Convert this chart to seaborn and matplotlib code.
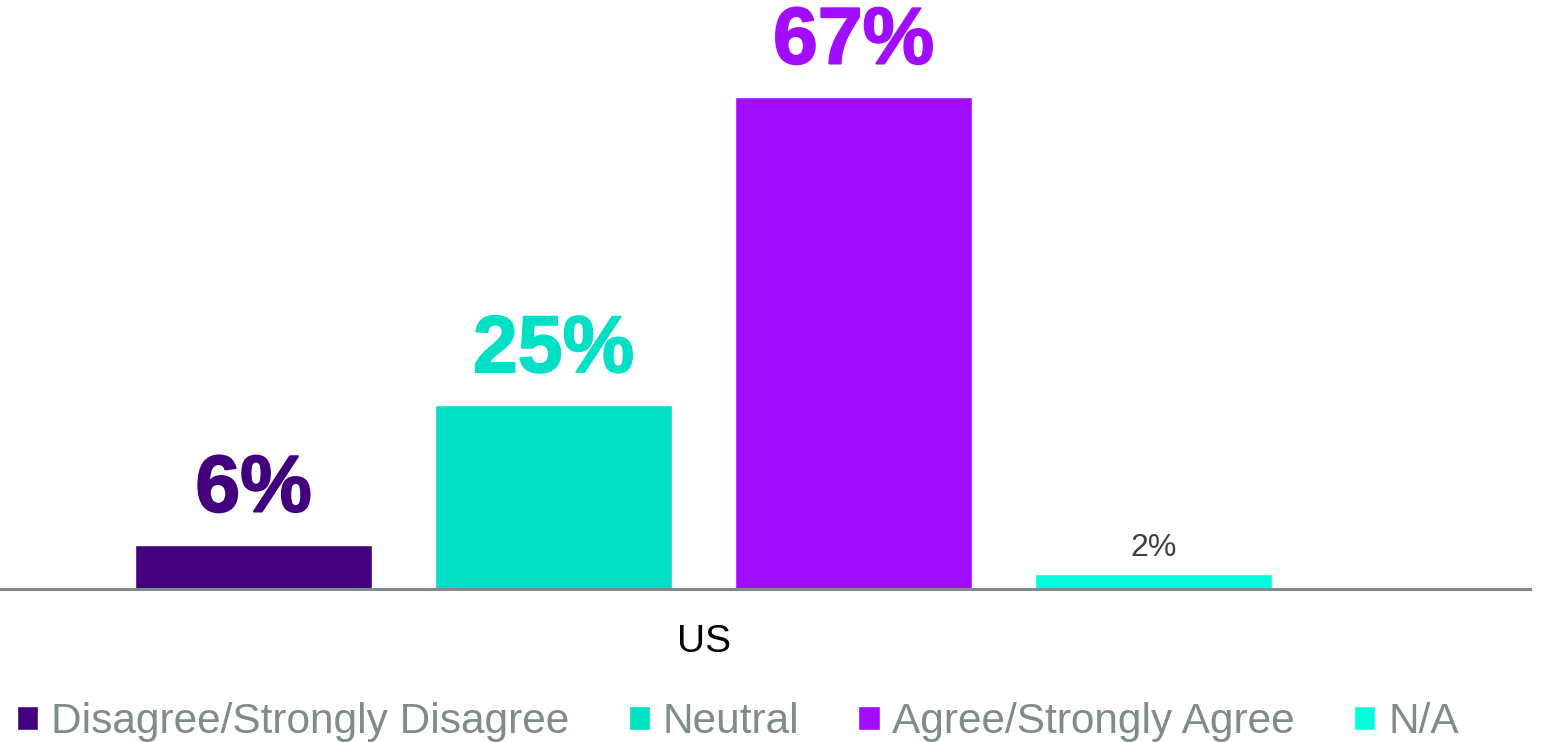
import matplotlib
matplotlib.use("Agg")
import matplotlib.pyplot as plt
import matplotlib.patheffects as pe
import seaborn as sns
import pandas as pd

# Survey responses for the US
responses = ["Disagree/Strongly Disagree", "Neutral", "Agree/Strongly Agree", "N/A"]
shares = [6, 25, 67, 2]
countries = ["US", "US", "US", "US"]
colors = ["#42007F", "#00E0C4", "#A10EFF", "#00FFDB"]

df = pd.DataFrame({"country": countries, "response": responses, "share": shares})

sns.set_theme(style="white")
plt.rcParams["font.family"] = ["Liberation Sans", "DejaVu Sans"]

fig = plt.figure(figsize=(15.44, 7.42), dpi=100)
ax = fig.add_axes([0.0, 0.2062, 0.991, 0.7938])

sns.barplot(data=df, x="country", y="share", hue="response", hue_order=responses,
            palette=colors, width=0.8, gap=0.21, saturation=1, ax=ax, legend=True)

ax.set_ylim(0, 80.2)
ax.set_xlim(-0.469, 0.551)

# Value labels: heavy text in the bar colour for main answers, small grey for N/A
for bar, val, col, resp in zip(ax.patches, shares, colors, responses):
    cx = bar.get_x() + bar.get_width() / 2
    top = bar.get_height()
    if resp == "N/A":
        ax.annotate(f"{val}%", (cx, top), xytext=(0, 13), textcoords="offset points",
                    ha="center", va="baseline", fontsize=23, color="#404040")
    else:
        ax.annotate(f"{val}%", (cx, top), xytext=(0, 24), textcoords="offset points",
                    ha="center", va="baseline", fontsize=58, fontweight="bold",
                    color=col,
                    path_effects=[pe.withStroke(linewidth=1.3, foreground=col)])

for side in ["top", "right", "left"]:
    ax.spines[side].set_visible(False)
ax.spines["bottom"].set_color("#7F8C8D")
ax.spines["bottom"].set_linewidth(2.2)
ax.set_yticks([])
ax.set_xlabel("")
ax.set_ylabel("")
ax.tick_params(axis="x", length=0, pad=25, labelsize=28, labelcolor="black")

handles, labels = ax.get_legend_handles_labels()
ax.get_legend().remove()
leg = fig.legend(handles, labels, loc="center", bbox_to_anchor=(0.478, 0.027), ncol=4,
                 frameon=False, fontsize=30.5, handlelength=0.5, handleheight=0.5,
                 handletextpad=0.3, columnspacing=1.4, borderpad=0, borderaxespad=0)
for t in leg.get_texts():
    t.set_color("#7F8C8D")

fig.savefig("out.png", dpi=100)
